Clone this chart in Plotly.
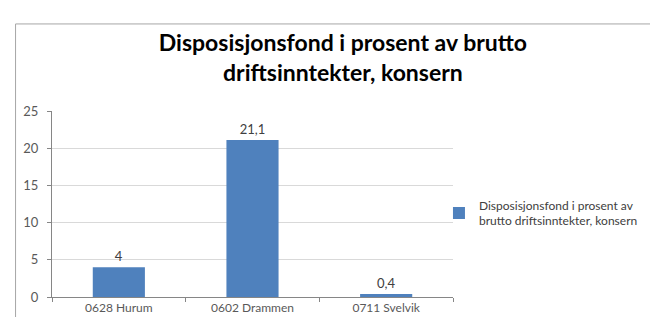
import plotly.graph_objects as go

categories = ["0628 Hurum", "0602 Drammen", "0711 Svelvik"]
values = [4.0, 21.1, 0.4]
series_name = "Disposisjonsfond i prosent av<br>brutto driftsinntekter, konsern"
title_text = "Disposisjonsfond i prosent av brutto<br>driftsinntekter, konsern"
y_ticks = [0, 5, 10, 15, 20, 25]

FONT = "Lato, 'Open Sans', sans-serif"

fig = go.Figure()
fig.add_trace(go.Bar(
    x=categories, y=values, name=series_name,
    marker=dict(color="#4F81BD", line=dict(width=0)),
    width=0.39,
    text=[("%g" % v).replace(".", ",") for v in values],
    textposition="outside", cliponaxis=False,
    textfont=dict(family=FONT, size=13, color="#404040"),
    showlegend=True,
))

fig.update_layout(
    width=658, height=317,
    margin=dict(l=44, r=213, t=103, b=28),
    paper_bgcolor="white", plot_bgcolor="white",
    separators=", ",
    title=dict(text="<b>" + title_text + "</b>", x=0.509, xanchor="center",
               y=0.864, yanchor="middle", yref="container",
               font=dict(family=FONT, size=23, color="#000000")),
    showlegend=True,
    legend=dict(x=0.965, xanchor="left", y=0.45, yanchor="middle",
                font=dict(family=FONT, size=12, color="#404040"),
                itemwidth=30, tracegroupgap=0, bgcolor="rgba(0,0,0,0)"),
    xaxis=dict(type="category", showline=True, linecolor="#868686", linewidth=1,
               automargin=False,
               ticks="outside", tickson="boundaries", ticklen=4, tickcolor="#868686",
               tickfont=dict(family=FONT, size=12, color="#595959"), showgrid=False),
    yaxis=dict(range=[0, 25], tickvals=y_ticks, showline=True, linecolor="#868686",
               linewidth=1, ticks="outside", ticklen=4, tickcolor="#868686",
               automargin=False, ticklabelstandoff=6,
               gridcolor="#D9D9D9", gridwidth=1, zeroline=False,
               tickfont=dict(family=FONT, size=13, color="#595959")),
    shapes=[dict(type="rect", xref="paper", yref="paper",
                 x0=-0.0909, x1=1.515, y0=-0.2, y1=1.468,
                 line=dict(color="#A6A6A6", width=1), layer="below")],
)

fig.write_html("out.html")
